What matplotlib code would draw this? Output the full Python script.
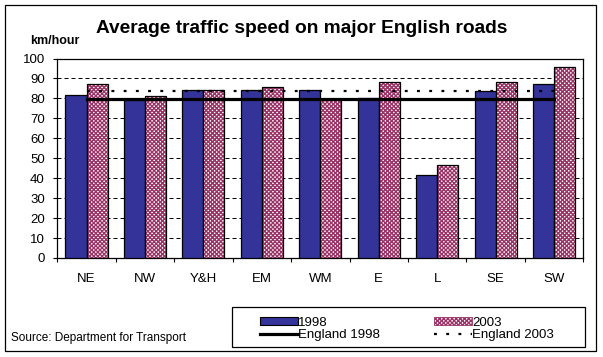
import matplotlib
matplotlib.use("Agg")
import matplotlib.pyplot as plt
import numpy as np
from matplotlib.patches import Rectangle, Patch
from matplotlib.lines import Line2D

plt.rcParams['font.family'] = ['Liberation Sans', 'DejaVu Sans']
plt.rcParams['hatch.linewidth'] = 1.0

# ─── DATOS ──────────────────────────────────────────────────────────────
regions = ["NE", "NW", "Y&H", "EM", "WM", "E", "L", "SE", "SW"]
speed_1998 = [81.5, 79.0, 84.3, 84.0, 84.0, 80.0, 41.6, 83.5, 87.4]
speed_2003 = [87.4, 81.3, 84.3, 85.5, 79.5, 88.4, 46.6, 88.0, 95.6]
england_1998 = 79.8
england_2003 = 83.5

BLUE = "#333399"
PINK = "#993366"
HATCH = "xxxxxxxx"

fig = plt.figure(figsize=(6.03, 3.57), dpi=100)
ax = fig.add_axes([57.3 / 603, 1 - 258 / 357, (583.3 - 57.3) / 603, (258 - 58.5) / 357])

x = np.arange(len(regions))
w = 0.36

ax.bar(x - w / 2, speed_1998, w, color=BLUE, edgecolor="black", linewidth=0.9, zorder=3)
# patrón a cuadros para 2003: relleno con trama + contorno negro
ax.bar(x + w / 2, speed_2003, w, color="white", edgecolor=PINK, hatch=HATCH,
       linewidth=0, zorder=3)
ax.bar(x + w / 2, speed_2003, w, color="none", edgecolor="black", linewidth=0.9, zorder=3.1)

ax.plot([x[0], x[-1]], [england_1998, england_1998], color="black", linewidth=2.3, zorder=4)
ax.plot([x[0], x[-1]], [england_2003, england_2003], color="black", linewidth=1.6,
        linestyle=(0, (1.3, 4.2)), zorder=4)

ax.set_xlim(-0.5, len(regions) - 0.5)
ax.set_ylim(0, 100)
ax.set_yticks(np.arange(0, 101, 10))
ax.yaxis.grid(True, color="black", linewidth=0.72, linestyle=(0, (4, 3)), zorder=0)
ax.set_axisbelow(True)

ax.set_xticks(np.arange(-0.5, len(regions), 1))
ax.set_xticklabels([])
ax.set_xticks(x, minor=True)
ax.set_xticklabels(regions, minor=True, fontsize=9.5)
ax.tick_params(axis="x", which="major", direction="out", length=3, width=0.8)
ax.tick_params(axis="x", which="minor", length=0, pad=10.5)
ax.tick_params(axis="y", direction="out", length=3, width=0.8, labelsize=9.5, pad=6)
for s in ax.spines.values():
    s.set_linewidth(0.9)

fig.text(0.5, 1 - 28.5 / 357, "Average traffic speed on major English roads",
         ha="center", va="center", fontsize=13.8, fontweight="bold")
fig.text(30.5 / 603, 1 - 41 / 357, "km/hour", ha="left", va="center",
         fontsize=9, fontweight="bold")
fig.text(10.7 / 603, 1 - 338 / 357, "Source: Department for Transport",
         ha="left", va="center", fontsize=8.5)

handles = [
    Patch(facecolor=BLUE, edgecolor="black", linewidth=0.8),
    Line2D([], [], color="black", linewidth=2.3),
    Patch(facecolor="white", edgecolor=PINK, hatch=HATCH, linewidth=0.6),
    Line2D([], [], color="black", linewidth=1.6, linestyle=(0, (1.3, 4.2))),
]
labels = ["1998", "England 1998", "2003", "England 2003"]
leg = fig.legend(handles, labels, ncol=2, loc="center left",
                 bbox_to_anchor=(260 / 603, 1 - 329 / 357),
                 fontsize=9.5, frameon=False,
                 handlelength=2.88, handleheight=0.45, handletextpad=0.0,
                 columnspacing=4.1, labelspacing=0.05, borderpad=0,
                 borderaxespad=0)

# caja de la leyenda y marco exterior
fig.patches.append(Rectangle((232.3 / 603, 1 - 346.7 / 357), (585 - 232.3) / 603,
                             (346.7 - 307.3) / 357, transform=fig.transFigure,
                             fill=False, edgecolor="black", linewidth=0.9))
fig.patches.append(Rectangle((5.3 / 603, 1 - 350.7 / 357), (596 - 5.3) / 603,
                             (350.7 - 5.3) / 357, transform=fig.transFigure,
                             fill=False, edgecolor="black", linewidth=0.9))

fig.savefig("out.png", dpi=100)
